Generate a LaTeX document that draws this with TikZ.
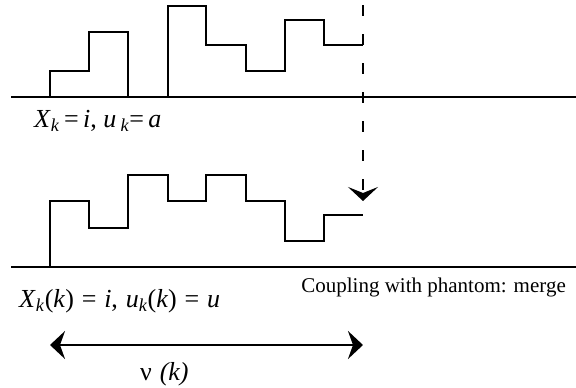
\documentclass[tikz,border=0pt]{standalone}
\usepackage{fontspec}
\setmainfont{Liberation Serif}
\usetikzlibrary{arrows.meta}

\newcommand{\eqsp}{\hspace{0.3em}}

\begin{document}
\begin{tikzpicture}[x=1pt, y=-1pt,
  axisline/.style={line width=1.3pt},
  stepline/.style={line width=1.2pt},
  lbl/.style={font=\fontsize{26}{30}\selectfont, inner sep=0pt},
  note/.style={font=\fontsize{21}{25}\selectfont, inner sep=0pt}]

\useasboundingbox (0,0) rectangle (576,388);

% Upper chain: path before the phantom arrives
\draw[axisline] (11,97) -- (576,97);
\draw[stepline] (50,97) \foreach \x/\h in {89/71, 128/32, 168/97, 206/6, 246/45, 285/71, 324/20, 363/45} { |- (\x,\h) };
\node[lbl, anchor=base west] (upperlbl) at (34,127)
  {\textit{X}\textsubscript{\textit{k}}\,=\,\textit{i}, \textit{u}\,\textsubscript{\textit{k}}=\,\textit{a}};

% Lower chain: path after the merge
\draw[axisline] (11,267) -- (576,267);
\draw[stepline] (50,267) \foreach \x/\h in {89/201, 128/228, 168/175, 206/201, 246/175, 285/201, 324/241, 363/215} { |- (\x,\h) };
\node[lbl, anchor=base west] (lowerlbl) at (19,307)
  {\textit{X}\textsubscript{\textit{k}}(\textit{k})\eqsp=\eqsp\textit{i},\eqsp\textit{u}\textsubscript{\textit{k}}(\textit{k})\eqsp=\eqsp\textit{u}};
\node[note, anchor=base east] (mergelbl) at (566,292) {Coupling with phantom: merge};

% Phantom drop (dashed) and coupling time span
\coordinate (droptop) at (363,5);
\coordinate (droptip) at (363,201);
\draw[line width=1.3pt, dash pattern=on 11pt off 18pt, -{Stealth[length=14pt, width=30pt, inset=6pt]}]
  (droptop) -- (droptip);

\coordinate (spanL) at (50,345);
\coordinate (spanR) at (363,345);
\draw[line width=2.4pt, {Stealth[length=15pt, width=28pt, inset=5pt]}-{Stealth[length=15pt, width=28pt, inset=5pt]}]
  (spanL) -- (spanR);
\node[lbl, anchor=base west] (spanlbl) at (140,380) {ν\hspace{0.3em}\textit{(k)}};

\end{tikzpicture}
\end{document}
